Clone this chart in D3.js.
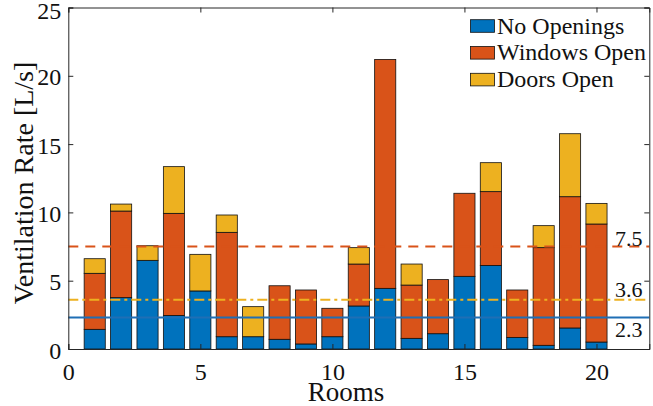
<!DOCTYPE html>
<html><head><meta charset="utf-8">
<script src="https://cdn.jsdelivr.net/npm/d3@7"></script>
<style>html,body{margin:0;padding:0;background:#fff;}svg{display:block;font-family:"Liberation Serif","Times New Roman",serif;}</style>
</head><body><svg id="c" width="653" height="406"></svg>
<script>
const rooms = [1,2,3,4,5,6,7,8,9,10,11,12,13,14,15,16,17,18,19,20];
const noOpenings  = [1.44,3.76,6.49,2.46,4.25,0.90,0.90,0.71,0.37,0.90,3.15,4.44,0.78,1.12,5.32,6.12,0.85,0.27,1.54,0.51];
const windowsOpen = [4.10,6.34,0.00,7.47,0.00,7.64,0.00,3.92,3.95,2.08,3.07,16.76,3.90,3.96,6.08,5.40,3.47,7.15,9.61,8.64];
const doorsOpen   = [1.07,0.51,1.07,3.42,2.68,1.27,2.20,0.00,0.00,0.00,1.20,0.00,1.54,0.00,0.00,2.12,0.00,1.61,4.61,1.51];
const seriesNames = ["No Openings","Windows Open","Doors Open"];
const seriesKeys = ["no","win","door"];
const colors = ["#0072BD","#D95319","#EDB120"];
const refValues = [7.5, 3.6, 2.3];
const refLabels = ["7.5","3.6","2.3"];
const refColors = ["#D95319","#EDB120","#1f6fb5"];
const refDash = ["10,7","10,4,3,4",null];
const xTicks = [0,5,10,15,20];
const yTicks = [0,5,10,15,20,25];

const svg = d3.select("#c");
const L=68.3, R=649.3, T=7.5, B=349;
const x = d3.scaleLinear().domain([0,22]).range([L,R]);
const y = d3.scaleLinear().domain([0,25]).range([B,T]);
const axisColor = "#262626";

const table = rooms.map((r,i)=>({room:r, no:noOpenings[i], win:windowsOpen[i], door:doorsOpen[i]}));
const stacked = d3.stack().keys(seriesKeys)(table);
const bw = x(0.8)-x(0);

stacked.forEach((s,si)=>{
  svg.append("g").selectAll("rect").data(s.filter(d=>d[1]-d[0]>0)).join("rect")
    .attr("x", d=>x(d.data.room)-bw/2).attr("width", bw)
    .attr("y", d=>y(d[1])).attr("height", d=>y(d[0])-y(d[1]))
    .attr("fill", colors[si]).attr("stroke","#111").attr("stroke-width",0.8);
});

// reference lines
refValues.forEach((v,i)=>{
  svg.append("line").attr("x1",L).attr("x2",R).attr("y1",y(v)).attr("y2",y(v))
    .attr("stroke",refColors[i]).attr("stroke-width",2)
    .attr("stroke-dasharray",refDash[i]);
});
// ref labels
const labOff = [-1, -3, 19];
refValues.forEach((v,i)=>{
  svg.append("text").attr("x",615).attr("y",y(v)+labOff[i])
    .attr("font-size",22).attr("fill","#111").text(refLabels[i]);
});

// axes
const gL = svg.append("g").attr("transform",`translate(${L},0)`)
  .call(d3.axisLeft(y).tickValues(yTicks).tickSize(-5).tickPadding(7).tickFormat(d3.format("d")));
const gR = svg.append("g").attr("transform",`translate(${R},0)`)
  .call(d3.axisRight(y).tickValues(yTicks).tickSize(-5).tickFormat(""));
const gB = svg.append("g").attr("transform",`translate(0,${B})`)
  .call(d3.axisBottom(x).tickValues(xTicks).tickSize(-5).tickPadding(14).tickFormat(d3.format("d")));
const gT = svg.append("g").attr("transform",`translate(0,${T})`)
  .call(d3.axisTop(x).tickValues(xTicks).tickSize(-5).tickFormat(""));
[gL,gR,gB,gT].forEach(g=>{
  g.select(".domain").attr("stroke",axisColor).attr("stroke-width",1);
  g.selectAll(".tick line").attr("stroke",axisColor).attr("stroke-width",1);
  g.selectAll("text").attr("fill","#111").attr("font-size",24).attr("font-family","Liberation Serif, serif");
});
gL.selectAll("text").attr("dy", d=> d===25 ? "0.46em" : "0.38em");
gB.selectAll("text").attr("dy","0.71em");

// axis titles
svg.append("text").attr("x",346).attr("y",401).attr("text-anchor","middle")
  .attr("font-size",27).attr("fill","#111").text("Rooms");
svg.append("text").attr("transform","translate(33,183) rotate(-90)").attr("text-anchor","middle")
  .attr("font-size",28).attr("fill","#111").text("Ventilation Rate [L/s]");

// legend (no box)
const lg = svg.append("g");
seriesNames.forEach((n,i)=>{
  const cy = 26 + i*26.8;
  lg.append("rect").attr("x",470.5).attr("y",cy-6.3).attr("width",24).attr("height",12.6)
    .attr("fill",colors[i]).attr("stroke","#111").attr("stroke-width",0.8);
  lg.append("text").attr("x",497).attr("y",cy+7.5).attr("font-size",24).attr("fill","#111").text(n);
});
</script></body></html>
